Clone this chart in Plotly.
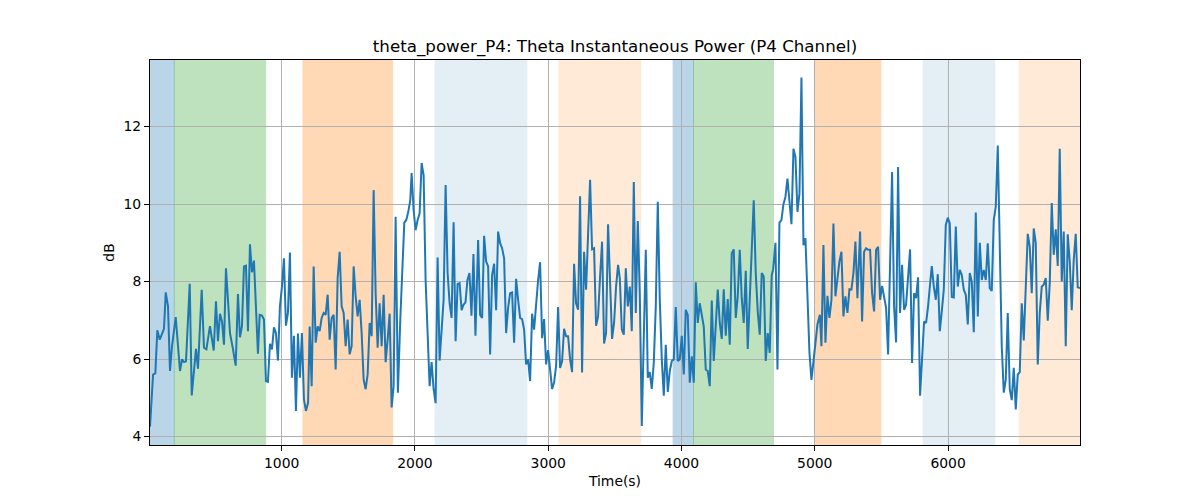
import plotly.graph_objects as go

# ---------------- data ----------------
time_s = [
    12, 35, 52, 67, 85, 102, 117, 130, 147, 162, 177, 205, 222, 237, 252, 267, 282, 310, 325, 342,
    357, 372, 400, 417, 435, 462, 490, 507, 522, 537, 552, 567, 582, 597, 612, 635, 655, 672, 687, 702,
    717, 732, 747, 762, 777, 792, 807, 822, 835, 852, 867, 882, 897, 912, 927, 942, 957, 972, 987, 1002,
    1017, 1032, 1047, 1062, 1077, 1092, 1107, 1122, 1137, 1152, 1167, 1182,
    1198, 1210, 1225, 1240, 1255, 1270, 1285, 1300, 1315, 1330, 1345, 1360, 1375, 1390, 1405, 1420, 1435,
    1450, 1465, 1480, 1495, 1510, 1525, 1540, 1555, 1570, 1585, 1600, 1615, 1630, 1645, 1660, 1675, 1690,
    1705, 1720, 1735, 1750, 1765, 1780, 1795, 1810, 1825, 1840, 1855, 1872, 1890, 1905, 1920, 1935, 1950,
    1965, 1975, 1990, 2005, 2020, 2035, 2050, 2065, 2080, 2095, 2110, 2125, 2140, 2155, 2170, 2185, 2200,
    2215, 2230, 2245, 2260, 2275, 2290, 2305, 2320, 2335, 2350,
    2364, 2379, 2394, 2409, 2424, 2439, 2454, 2474, 2489, 2504, 2519, 2534, 2549, 2564, 2579, 2594, 2609,
    2624, 2639, 2654, 2669, 2684, 2699, 2714, 2729, 2744, 2759, 2774, 2789, 2804, 2819, 2834, 2849, 2864,
    2879, 2894, 2909, 2924, 2939, 2954, 2969, 2984, 2999, 3014, 3029, 3044, 3059, 3074, 3089, 3104, 3119,
    3134, 3149, 3164, 3179, 3194, 3209, 3224, 3239, 3254, 3269, 3284, 3299, 3314, 3329, 3344, 3359, 3374,
    3389, 3404, 3419, 3434, 3449, 3464, 3479, 3494, 3509, 3524,
    3537, 3552, 3567, 3582, 3597, 3612, 3627, 3642, 3657, 3672, 3687, 3702, 3717, 3732, 3747, 3762, 3777,
    3792, 3807, 3822, 3837, 3852, 3867, 3882, 3897, 3912, 3927, 3942, 3957, 3972, 3987, 4002, 4017, 4032,
    4047, 4062, 4077, 4092, 4107, 4122, 4137, 4152, 4167, 4182, 4197, 4212, 4227, 4242, 4257, 4272, 4287,
    4302, 4317, 4332, 4347, 4362, 4377, 4392, 4407, 4422, 4437, 4452, 4467, 4482, 4497, 4512, 4527, 4542,
    4557, 4572, 4587, 4602, 4617, 4632, 4647, 4662, 4677, 4687,
    4705, 4720, 4735, 4750, 4765, 4780, 4795, 4810, 4825, 4840, 4855, 4870, 4885, 4900, 4915, 4930, 4945,
    4960, 4975, 4990, 5005, 5020, 5038, 5050, 5065, 5080, 5095, 5110, 5125, 5140, 5155, 5170, 5185, 5200,
    5215, 5230, 5245, 5260, 5275, 5290, 5305, 5320, 5340, 5355, 5370, 5385, 5400, 5415, 5430, 5445, 5460,
    5475, 5490, 5505, 5520, 5535, 5550, 5565, 5580, 5595, 5610, 5625, 5640, 5655, 5670, 5685, 5700, 5715,
    5730, 5745, 5760, 5775, 5790, 5805, 5820, 5835, 5850,
    5868, 5878, 5893, 5908, 5923, 5938, 5953, 5968, 5983, 5998, 6013, 6028, 6043, 6058, 6073, 6088, 6103,
    6118, 6133, 6148, 6163, 6178, 6193, 6208, 6223, 6238, 6253, 6268, 6283, 6298, 6313, 6328, 6343, 6358,
    6373, 6388, 6403, 6418, 6433, 6448, 6463, 6478, 6493, 6508, 6523, 6538, 6553, 6568, 6583, 6598, 6613,
    6628, 6643, 6658, 6673, 6688, 6703, 6718, 6733, 6748, 6763, 6778, 6793, 6808, 6823, 6838, 6853, 6868,
    6883, 6898, 6913, 6928, 6943, 6958, 6973, 6990,
]

theta_power_db = [
    4.25, 5.60, 5.63, 6.74, 6.50, 6.63, 6.78, 7.72, 7.36, 5.69, 6.33, 7.08, 6.25, 5.69, 5.99, 5.92, 5.94, 7.94, 5.06, 5.73,
    6.26, 5.75, 7.79, 6.29, 6.25, 6.85, 6.22, 7.49, 6.46, 7.17, 6.97, 6.37, 8.34, 7.53, 6.67, 6.25, 5.83, 7.68, 6.56, 6.85,
    8.39, 8.41, 6.72, 8.96, 8.24, 8.54, 7.53, 6.14, 7.14, 7.12, 7.02, 5.43, 5.41, 6.39, 6.25, 6.82, 6.67, 5.96, 7.36, 7.87,
    8.60, 6.86, 7.19, 8.75, 5.52, 6.60, 4.66, 6.66, 5.52, 6.67, 4.96, 4.66,
    4.87, 6.84, 5.30, 8.39, 6.42, 6.84, 6.72, 7.06, 7.19, 7.14, 7.66, 6.50, 7.06, 7.14, 5.73, 8.09, 8.77,
    7.36, 7.19, 6.33, 7.02, 6.12, 6.33, 8.39, 7.62, 7.10, 7.53, 6.67, 5.47, 5.22, 5.60, 6.93, 6.59, 10.36,
    7.70, 6.29, 7.44, 6.33, 7.66, 5.92, 6.50, 7.17, 4.75, 5.30, 9.67, 5.13, 7.02, 8.52, 9.52, 9.59, 9.80,
    10.10, 10.80, 9.84, 9.33, 9.59, 9.76, 11.06, 10.74, 8.04, 6.50, 5.30, 5.92, 5.22, 4.86, 8.62, 5.96, 6.84,
    7.53, 10.49, 8.22, 7.44, 7.06, 9.53, 6.46, 7.94, 7.96, 7.26,
    7.40, 7.46, 8.04, 8.22, 7.12, 8.71, 6.60, 9.07, 7.14, 7.06, 9.18, 8.52, 8.39, 6.12, 8.17, 8.46, 7.26,
    9.29, 8.99, 8.86, 8.60, 6.67, 7.32, 7.70, 7.72, 6.42, 8.07, 7.53, 7.06, 7.03, 6.76, 5.86, 5.99, 5.43,
    7.17, 6.76, 7.53, 8.04, 8.50, 6.54, 7.03, 5.86, 6.23, 5.69, 5.23, 5.39, 5.82, 7.34, 5.77, 5.94, 6.78,
    6.59, 6.59, 5.99, 5.66, 8.46, 7.44, 7.27, 10.20, 5.65, 8.77, 7.79, 8.99, 10.63, 8.83, 8.86, 6.86, 7.10,
    8.13, 9.03, 6.40, 6.67, 9.48, 7.70, 6.52, 6.93, 7.87, 8.43,
    8.09, 6.76, 6.63, 8.34, 7.36, 7.87, 6.72, 10.57, 7.19, 9.56, 7.70, 4.27, 6.50, 8.82, 5.52, 5.66, 5.23,
    5.90, 7.36, 10.06, 7.53, 5.99, 5.05, 6.37, 5.15, 5.69, 5.95, 5.99, 7.34, 5.95, 5.99, 6.60, 5.60, 7.27,
    7.14, 5.39, 6.07, 5.39, 7.98, 6.93, 7.44, 7.10, 6.84, 5.73, 5.69, 5.30, 7.51, 5.95, 7.02, 7.79, 6.93,
    6.52, 7.80, 6.60, 7.55, 6.37, 8.73, 8.83, 7.06, 7.62, 8.82, 7.57, 6.93, 8.28, 6.26, 7.57, 8.60, 10.10,
    8.22, 7.23, 6.63, 8.22, 8.13, 5.95, 6.67, 6.16, 8.17, 8.30,
    9.00, 5.73, 9.52, 9.59, 10.00, 10.19, 10.66, 10.10, 9.48, 11.43, 11.21, 9.80, 10.27, 13.27, 8.94, 9.12, 7.36,
    6.16, 5.46, 5.99, 6.50, 6.89, 7.14, 6.33, 8.94, 6.42, 7.63, 7.06, 7.53, 9.50, 7.62, 8.04, 8.52, 8.77,
    7.10, 7.62, 7.19, 7.80, 7.79, 8.22, 9.03, 7.57, 9.29, 6.97, 8.77, 8.86, 8.82, 8.82, 7.70, 7.23, 8.82,
    8.90, 7.53, 7.89, 7.62, 7.32, 6.12, 8.90, 10.83, 7.36, 6.43, 10.96, 7.19, 8.43, 7.27, 7.40, 8.13, 8.83,
    5.90, 7.70, 7.57, 8.11, 5.05, 6.16, 6.97, 6.93, 7.36,
    8.04, 8.40, 7.87, 7.53, 8.19, 6.72, 7.23, 7.79, 9.46, 9.65, 9.50, 7.60, 7.59, 9.42, 7.87, 8.30, 8.17,
    7.79, 7.66, 6.89, 8.22, 8.00, 6.69, 9.78, 7.10, 9.00, 8.04, 8.30, 8.04, 8.99, 7.83, 7.76, 9.59, 9.93,
    11.51, 8.90, 6.33, 5.13, 5.47, 7.19, 5.22, 4.94, 5.77, 4.70, 5.60, 5.66, 7.44, 6.48, 7.96, 9.23, 8.90,
    7.70, 9.37, 9.00, 5.86, 7.19, 7.87, 7.92, 8.09, 6.99, 7.96, 10.03, 8.69, 9.35, 8.40, 11.43, 8.00, 9.29,
    6.33, 9.22, 8.52, 7.26, 8.56, 9.23, 7.85, 7.83,
]

# shaded phases (start, end, colour, opacity)
span_starts = [0, 194, 1160, 2151, 3081, 3937, 4090, 4998, 5813, 6534]
span_ends = [194, 880, 1833, 2839, 3694, 4090, 4690, 5496, 6351, 7100]
span_colors = ["#1f77b4", "#2ca02c", "#ff7f0e", "#1f77b4", "#ff7f0e",
               "#1f77b4", "#2ca02c", "#ff7f0e", "#1f77b4", "#ff7f0e"]
span_alphas = [0.3, 0.3, 0.3, 0.12, 0.16, 0.3, 0.3, 0.3, 0.12, 0.16]

x_ticks = [1000, 2000, 3000, 4000, 5000, 6000]
y_ticks = [4, 6, 8, 10, 12]

assert len(time_s) == len(theta_power_db), (len(time_s), len(theta_power_db))

# ---------------- figure ----------------
fig = go.Figure()
fig.add_trace(go.Scatter(
    x=time_s, y=theta_power_db, mode="lines",
    line=dict(color="#1f77b4", width=2),
    showlegend=False, hoverinfo="skip",
))

for s, e, c, a in zip(span_starts, span_ends, span_colors, span_alphas):
    fig.add_shape(type="rect", xref="x", yref="paper", x0=s, x1=e, y0=0, y1=1,
                  fillcolor=c, opacity=a, line=dict(color=c, width=1), layer="below")

font_family = "DejaVu Sans, sans-serif"
fig.update_layout(
    width=1200, height=500,
    margin=dict(l=150, r=120, t=60, b=55),
    paper_bgcolor="white", plot_bgcolor="white",
    font=dict(family=font_family, size=14, color="black"),
    title=dict(text="theta_power_P4: Theta Instantaneous Power (P4 Channel)",
               x=615 / 1200, xanchor="center", xref="container",
               y=1 - 46 / 500, yanchor="middle", yref="container",
               font=dict(size=16.7, family=font_family, color="black")),
)
fig.update_xaxes(
    range=[12, 6990], tickvals=x_ticks, ticktext=[str(v) for v in x_ticks],
    showgrid=True, gridcolor="#b0b0b0", gridwidth=1,
    showline=True, linecolor="black", linewidth=1, mirror=True,
    ticks="outside", ticklen=5, tickcolor="black", tickwidth=1,
    tickfont=dict(size=13.9), zeroline=False,
    title=dict(text="Time(s)", font=dict(size=13.9), standoff=6),
)
fig.update_yaxes(
    range=[3.78, 13.72], tickvals=y_ticks, ticktext=[str(v) for v in y_ticks],
    showgrid=True, gridcolor="#b0b0b0", gridwidth=1,
    showline=True, linecolor="black", linewidth=1, mirror=True,
    ticks="outside", ticklen=5, tickcolor="black", tickwidth=1,
    tickfont=dict(size=13.9), zeroline=False,
    title=dict(text="dB", font=dict(size=13.9), standoff=5),
)

fig.write_html("out.html")
